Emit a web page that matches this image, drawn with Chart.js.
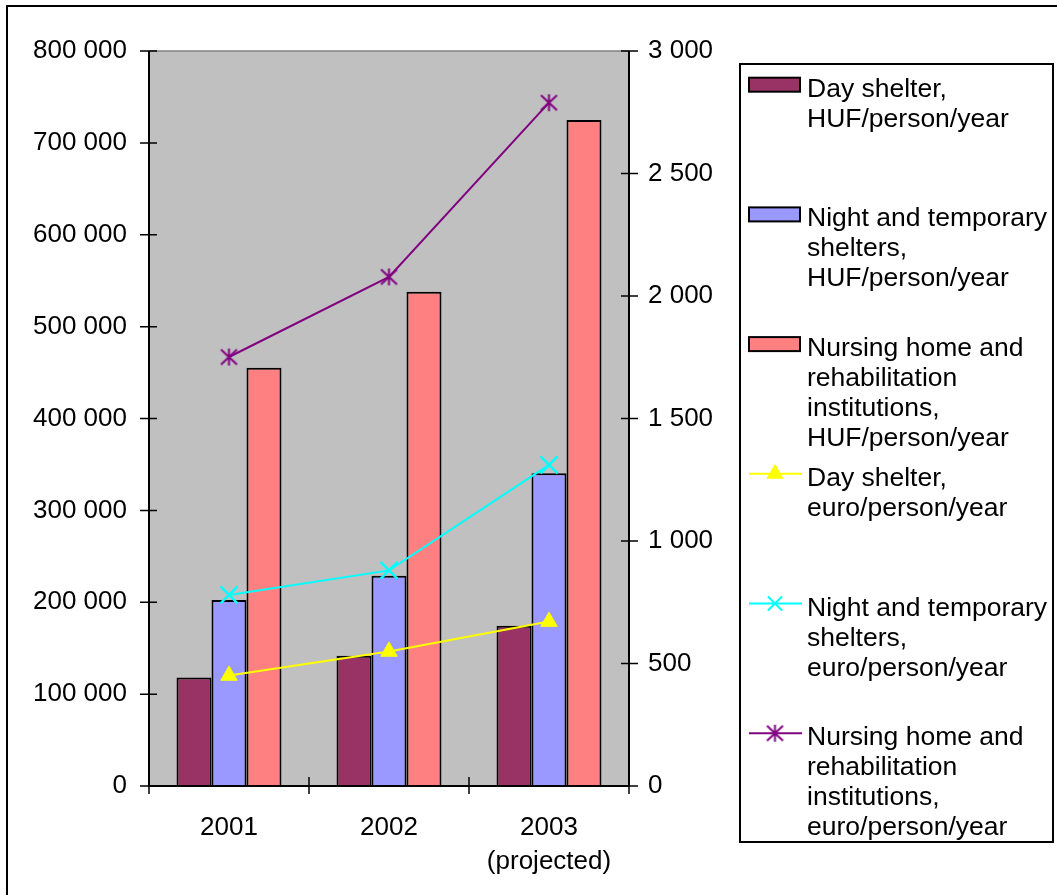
<!DOCTYPE html>
<html>
<head>
<meta charset="utf-8">
<title>Costs of homeless care institutions</title>
<script src="https://cdn.jsdelivr.net/npm/chart.js@4.4.1/dist/chart.umd.min.js"></script>
<style>
  html, body { margin: 0; padding: 0; background: #ffffff; }
  #wrap { width: 1057px; height: 895px; position: relative; }
</style>
</head>
<body>
<div id="wrap"><canvas id="c" width="1057" height="895"></canvas></div>
<script>
// Categories (years)
const categories = ['2001', '2002', ['2003', '(projected)']];

// Costs in HUF per person per year (left axis, bars)
const dayShelterHuf = [118000, 141800, 174500];
const nightShelterHuf = [202400, 228900, 340300];
const nursingHomeHuf = [455300, 538000, 724900];

// Costs in euro per person per year (right axis, lines)
const dayShelterEuro = [451, 549, 671];
const nightShelterEuro = [780, 880, 1311];
const nursingHomeEuro = [1751, 2078, 2789];

// Axis tick values
const hufTicks = [0, 100000, 200000, 300000, 400000, 500000, 600000, 700000, 800000];
const euroTicks = [0, 500, 1000, 1500, 2000, 2500, 3000];

// Legend text, one array of lines per series
const seriesLabels = [
  ['Day shelter,', 'HUF/person/year'],
  ['Night and temporary', 'shelters,', 'HUF/person/year'],
  ['Nursing home and', 'rehabilitation', 'institutions,', 'HUF/person/year'],
  ['Day shelter,', 'euro/person/year'],
  ['Night and temporary', 'shelters,', 'euro/person/year'],
  ['Nursing home and', 'rehabilitation', 'institutions,', 'euro/person/year']
];

const FONT = '"Liberation Sans", Arial, sans-serif';

function spaced(v) {
  return String(v).replace(/\B(?=(\d{3})+(?!\d))/g, ' ');
}

// Asterisk marker: an X with a vertical stroke
function makeStar(color, size) {
  const cv = document.createElement('canvas');
  cv.width = size; cv.height = size;
  const g = cv.getContext('2d');
  const c = size / 2, hw = size / 2 - 1.5, hh = size / 2 - 2;
  g.strokeStyle = color; g.lineWidth = 2;
  g.beginPath();
  g.moveTo(c - hw, c - hh); g.lineTo(c + hw, c + hh);
  g.moveTo(c + hw, c - hh); g.lineTo(c - hw, c + hh);
  g.moveTo(c, c - hh - 1); g.lineTo(c, c + hh + 1);
  g.stroke();
  return cv;
}
const starImg = makeStar('#800080', 19);

const barStyle = { borderColor: '#000000', borderWidth: 2, borderSkipped: 'bottom', yAxisID: 'y' };
const lineStyle = { type: 'line', yAxisID: 'y1', borderWidth: 2, order: -1, tension: 0 };

const datasets = [
  Object.assign({ label: seriesLabels[0].join(' '), data: dayShelterHuf, backgroundColor: '#993366' }, barStyle),
  Object.assign({ label: seriesLabels[1].join(' '), data: nightShelterHuf, backgroundColor: '#9999FF' }, barStyle),
  Object.assign({ label: seriesLabels[2].join(' '), data: nursingHomeHuf, backgroundColor: '#FF8080' }, barStyle),
  Object.assign({ label: seriesLabels[3].join(' '), data: dayShelterEuro, borderColor: '#FFFF00',
    backgroundColor: '#FFFF00', pointStyle: 'triangle', pointRadius: 9.5, pointBorderWidth: 1 }, lineStyle),
  Object.assign({ label: seriesLabels[4].join(' '), data: nightShelterEuro, borderColor: '#00FFFF',
    backgroundColor: '#00FFFF', pointStyle: 'crossRot', pointRadius: 12, pointBorderWidth: 2.5 }, lineStyle),
  Object.assign({ label: seriesLabels[5].join(' '), data: nursingHomeEuro, borderColor: '#800080',
    backgroundColor: '#800080', pointStyle: starImg, pointRadius: 9 }, lineStyle)
];

// Excel-like frame: grey plot area, crossing tick marks, boxed legend
const framePlugin = {
  id: 'frame',
  beforeDraw(chart) {
    const { ctx, chartArea: a } = chart;
    ctx.save();
    ctx.fillStyle = '#ffffff';
    ctx.fillRect(0, 0, chart.width, chart.height);
    ctx.fillStyle = '#C0C0C0';
    ctx.fillRect(a.left, a.top, a.right - a.left, a.bottom - a.top);
    ctx.strokeStyle = '#808080';
    ctx.lineWidth = 1.5;
    ctx.beginPath();
    ctx.moveTo(a.left, a.top); ctx.lineTo(a.right, a.top);
    ctx.stroke();
    ctx.restore();
  },
  afterDraw(chart) {
    const { ctx, chartArea: a, scales } = chart;
    ctx.save();
    ctx.strokeStyle = '#000000';
    ctx.lineWidth = 2;
    // axis lines
    ctx.beginPath();
    ctx.moveTo(a.left, a.top); ctx.lineTo(a.left, a.bottom);
    ctx.moveTo(a.right, a.top); ctx.lineTo(a.right, a.bottom);
    ctx.moveTo(a.left - 1, a.bottom); ctx.lineTo(a.right + 1, a.bottom);
    ctx.stroke();
    ctx.lineWidth = 1.5;
    ctx.beginPath();
    hufTicks.forEach(v => {
      const y = scales.y.getPixelForValue(v);
      ctx.moveTo(a.left - 9, y); ctx.lineTo(a.left + 8, y);
    });
    euroTicks.forEach(v => {
      const y = scales.y1.getPixelForValue(v);
      ctx.moveTo(a.right - 8, y); ctx.lineTo(a.right + 9, y);
    });
    const xs = scales.x;
    const half = (xs.getPixelForValue(1) - xs.getPixelForValue(0)) / 2;
    for (let i = 0; i <= categories.length; i++) {
      const x = i < categories.length ? xs.getPixelForValue(i) - half : xs.getPixelForValue(i - 1) + half;
      ctx.moveTo(x, a.bottom - 9); ctx.lineTo(x, a.bottom + 8);
    }
    ctx.stroke();

    // legend
    const lx = 740, ly = 64, lw = 313, lh = 778;
    ctx.lineWidth = 2;
    ctx.strokeRect(lx, ly, lw, lh);
    ctx.font = '26.5px ' + FONT;
    ctx.textBaseline = 'alphabetic';
    ctx.textAlign = 'left';
    chart.data.datasets.forEach((ds, i) => {
      const base = 96.7 + 129.7 * i;
      const sy = base - 12;
      if (!ds.type) {
        ctx.fillStyle = ds.backgroundColor;
        ctx.fillRect(749, sy - 7, 51, 14);
        ctx.strokeStyle = '#000000';
        ctx.lineWidth = 2;
        ctx.strokeRect(749, sy - 7, 51, 14);
      } else {
        ctx.strokeStyle = ds.borderColor;
        ctx.lineWidth = 2;
        ctx.beginPath();
        ctx.moveTo(749, sy); ctx.lineTo(802, sy);
        ctx.stroke();
        if (ds.pointStyle === 'triangle') {
          Chart.helpers.drawPoint(ctx, { pointStyle: 'triangle', radius: 8, borderWidth: 1 }, 775, sy);
          ctx.fillStyle = ds.backgroundColor;
          ctx.fill();
        } else if (ds.pointStyle === 'crossRot') {
          Chart.helpers.drawPoint(ctx, { pointStyle: 'crossRot', radius: 10, borderWidth: 2 }, 775, sy);
        } else {
          ctx.drawImage(ds.pointStyle, 775 - ds.pointStyle.width / 2, sy - ds.pointStyle.height / 2);
        }
      }
      ctx.fillStyle = '#000000';
      seriesLabels[i].forEach((t, k) => ctx.fillText(t, 807, base + 30 * k));
    });

    // outer chart border
    ctx.strokeStyle = '#000000';
    ctx.lineWidth = 2;
    ctx.strokeRect(7, 6, 1100, 1000);
    ctx.restore();
  }
};

new Chart(document.getElementById('c'), {
  type: 'bar',
  data: { labels: categories, datasets },
  options: {
    responsive: false,
    animation: false,
    devicePixelRatio: 1,
    layout: { padding: { top: 51, left: 0, right: 0, bottom: 0 } },
    datasets: { bar: { categoryPercentage: 0.656, barPercentage: 1 } },
    plugins: { legend: { display: false }, tooltip: { enabled: false } },
    scales: {
      x: {
        offset: true,
        grid: { display: false },
        border: { display: false },
        ticks: { color: '#000000', font: { family: FONT, size: 26, lineHeight: 1.3 }, padding: 17, maxRotation: 0, autoSkip: false },
        afterFit(s) { s.height = 109; }
      },
      y: {
        position: 'left', min: 0, max: 800000,
        grid: { display: false },
        border: { display: false },
        afterBuildTicks(s) { s.ticks = hufTicks.map(v => ({ value: v })); },
        ticks: { color: '#000000', font: { family: FONT, size: 26 }, padding: 14, callback: v => spaced(v) },
        afterFit(s) { s.width = 149; }
      },
      y1: {
        position: 'right', min: 0, max: 3000,
        grid: { display: false },
        border: { display: false },
        afterBuildTicks(s) { s.ticks = euroTicks.map(v => ({ value: v })); },
        ticks: { color: '#000000', font: { family: FONT, size: 26 }, padding: 11, callback: v => spaced(v) },
        afterFit(s) { s.width = 1057 - 629; }
      }
    }
  },
  plugins: [framePlugin]
});
</script>
</body>
</html>
